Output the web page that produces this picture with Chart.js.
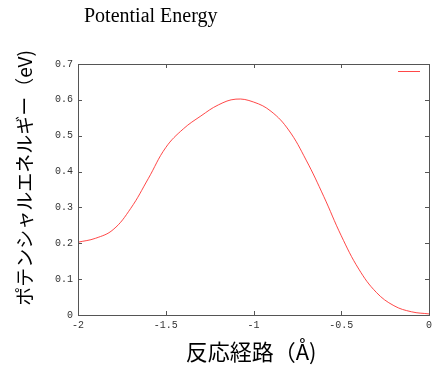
<!DOCTYPE html>
<html>
<head>
<meta charset="utf-8">
<script src="https://cdn.jsdelivr.net/npm/chart.js@4.4.1/dist/chart.umd.min.js"></script>
<style>
    html, body { margin: 0; padding: 0; background: #fff; }
    #wrap { position: relative; width: 445px; height: 377px; }
    #title {
        position: absolute; left: 84px; top: 3px;
        font: 20px/24px "Liberation Serif", "Times New Roman", serif;
        color: #000;
    }
</style>
</head>
<body>
<div id="wrap">
    <canvas id="peChart" width="445" height="377"></canvas>
    <div id="title">Potential Energy</div>
</div>
<script>
// reaction coordinate (Å) and potential energy (eV)
const pathX = [-2.0, -1.9, -1.8, -1.7, -1.6, -1.5, -1.4, -1.3, -1.2, -1.1, -1.0,
    -0.9, -0.8, -0.7, -0.6, -0.5, -0.4, -0.3, -0.2, -0.1, 0.0];
const energy = [0.203, 0.214, 0.238, 0.297, 0.380, 0.467, 0.519, 0.555, 0.586, 0.602, 0.594,
    0.568, 0.516, 0.432, 0.331, 0.221, 0.128, 0.063, 0.026, 0.009, 0.003];

const xTicks = [-2, -1.5, -1, -0.5, 0];
const yTicks = [0, 0.1, 0.2, 0.3, 0.4, 0.5, 0.6, 0.7];

const xLabel = '反応経路（Å) ';
const yLabel = '\u3000 ポテンシャルエネルギー（eV)';

const lineColor = 'rgba(255, 40, 40, 0.85)';
const frameColor = '#555';
const tickFont = { family: '"Liberation Mono", "DejaVu Sans Mono", monospace', size: 10 };

// gnuplot style frame: box around plot, ticks pointing inward on all sides, key line top right
const framePlugin = {
    id: 'frame',
    afterDatasetsDraw: function (chart) {
        const ctx = chart.ctx;
        const area = chart.chartArea;
        const xs = chart.scales.x;
        const ys = chart.scales.y;
        const len = 4;

        ctx.save();
        ctx.strokeStyle = frameColor;
        ctx.lineWidth = 1;
        ctx.beginPath();
        ctx.rect(Math.round(area.left) + 0.5, Math.round(area.top) + 0.5,
            Math.round(area.right - area.left), Math.round(area.bottom - area.top));
        xTicks.forEach(v => {
            const px = Math.round(xs.getPixelForValue(v)) + 0.5;
            ctx.moveTo(px, area.bottom);
            ctx.lineTo(px, area.bottom - len);
            ctx.moveTo(px, area.top);
            ctx.lineTo(px, area.top + len);
        });
        yTicks.forEach(v => {
            const py = Math.round(ys.getPixelForValue(v)) + 0.5;
            ctx.moveTo(area.left, py);
            ctx.lineTo(area.left + len, py);
            ctx.moveTo(area.right, py);
            ctx.lineTo(area.right - len, py);
        });
        ctx.stroke();
        ctx.restore();

        // key sample (no title text)
        ctx.save();
        ctx.strokeStyle = lineColor;
        ctx.lineWidth = 1;
        ctx.beginPath();
        const ky = Math.round(area.top + 7) + 0.5;
        ctx.moveTo(area.right - 31, ky);
        ctx.lineTo(area.right - 9, ky);
        ctx.stroke();
        ctx.restore();
    }
};

const ctx = document.getElementById('peChart').getContext('2d');
new Chart(ctx, {
    type: 'line',
    data: {
        datasets: [{
            label: '',
            data: pathX.map((x, i) => ({ x: x, y: energy[i] })),
            borderColor: lineColor,
            borderWidth: 1,
            pointRadius: 0,
            fill: false,
            tension: 0.4
        }]
    },
    options: {
        responsive: false,
        animation: false,
        layout: {
            padding: { left: 0, right: 16, top: 64, bottom: 0 }
        },
        plugins: {
            legend: { display: false },
            title: { display: false },
            tooltip: { enabled: false }
        },
        scales: {
            x: {
                type: 'linear',
                min: -2,
                max: 0,
                afterBuildTicks: function (axis) {
                    axis.ticks = xTicks.map(v => ({ value: v }));
                },
                afterFit: function (axis) {
                    axis.height = 62;
                },
                grid: { drawOnChartArea: false, drawTicks: false },
                border: { color: frameColor },
                ticks: {
                    padding: 4,
                    color: '#333',
                    font: tickFont,
                    maxRotation: 0,
                    callback: function (value) {
                        return String(value);
                    }
                },
                title: {
                    display: true,
                    text: xLabel,
                    color: '#000',
                    font: { family: '"Noto Sans CJK JP", sans-serif', size: 22 },
                    padding: { top: 0, bottom: 12 }
                }
            },
            y: {
                min: 0,
                max: 0.7,
                afterBuildTicks: function (axis) {
                    axis.ticks = yTicks.map(v => ({ value: v }));
                },
                afterFit: function (axis) {
                    axis.width = 78;
                },
                grid: { drawOnChartArea: false, drawTicks: false },
                border: { color: frameColor },
                ticks: {
                    padding: 5,
                    color: '#333',
                    font: tickFont,
                    callback: function (value) {
                        return String(value);
                    }
                },
                title: {
                    display: true,
                    text: yLabel,
                    color: '#000',
                    font: { family: '"Noto Sans CJK JP", sans-serif', size: 19 },
                    padding: { top: 13, bottom: 0 }
                }
            }
        }
    },
    plugins: [framePlugin]
});
</script>
</body>
</html>
